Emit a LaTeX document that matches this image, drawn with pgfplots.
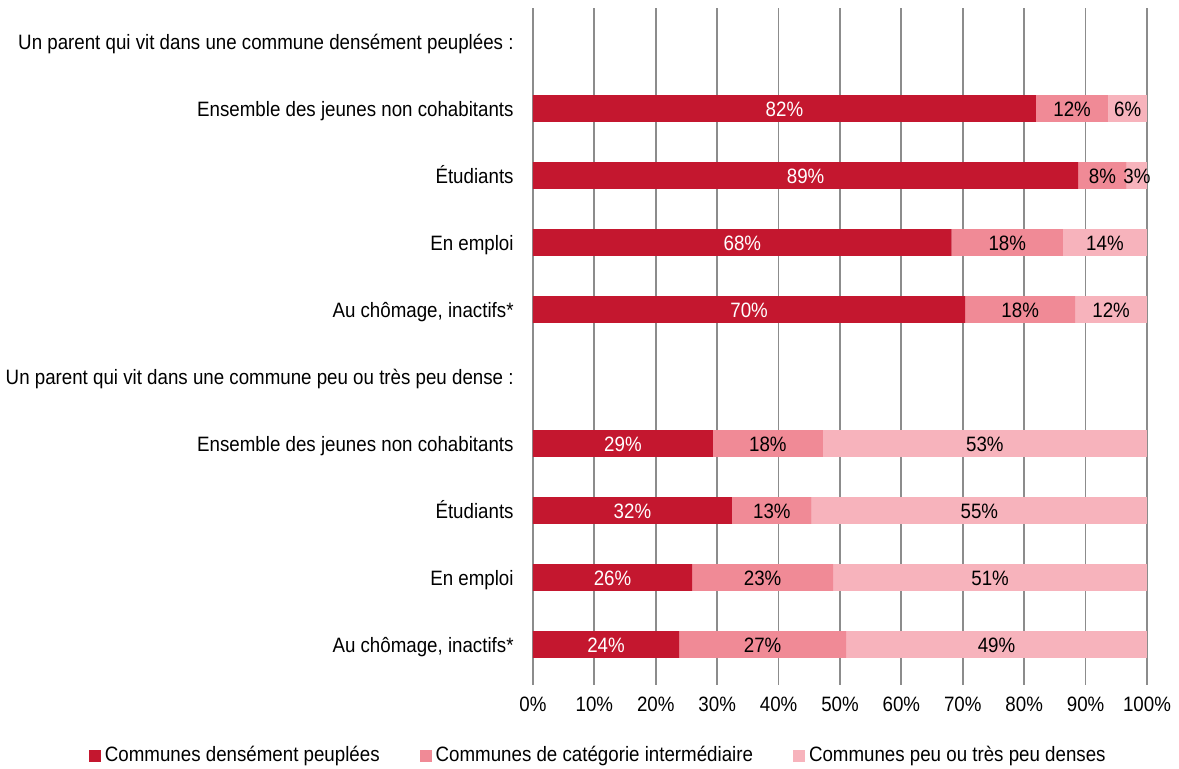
\documentclass[border=0pt]{standalone}
\usepackage{pgfplots}
\pgfplotsset{compat=1.18}
\usepackage{pgfplotstable}
\usepackage{fontspec}
\setmainfont{Liberation Sans}[FakeStretch=0.9]
\definecolor{c1}{HTML}{C4172F}
\definecolor{c2}{HTML}{F08A96}
\definecolor{c3}{HTML}{F7B3BC}
\definecolor{gridc}{HTML}{8C8C8C}

\pgfplotstableread{
y a b c la lb lc
1 81.9 11.8 6.3 82 12 6
2 88.8 7.9 3.3 89 8 3
3 68.2 18.1 13.7 68 18 14
4 70.4 17.9 11.7 70 18 12
6 29.3 17.9 52.8 29 18 53
7 32.4 13.0 54.6 32 13 55
8 25.9 23.0 51.1 26 23 51
9 23.8 27.2 49.0 24 27 49
}\data

\pgfplotsset{
  mysq/.style={legend image code/.code={\fill[##1] (0pt,-3pt) rectangle (6pt,3pt);}},
  lbl/.style={only marks, mark=none, point meta=explicit symbolic,
    nodes near coords={\pgfplotspointmeta\%},
    every node near coord/.style={anchor=base, yshift=-3.9pt, inner sep=0pt, font=\fontsize{10.4}{12}\selectfont, text=#1}},
}

\begin{document}
\begin{tikzpicture}
\begin{axis}[
  name=main,
  scale only axis, width=307pt, height=335pt,
  xbar stacked, bar width=13.3pt,
  xmin=0, xmax=100, ymin=-0.5, ymax=9.5, y dir=reverse,
  enlargelimits=false,
  axis lines*=left,
  x axis line style={draw=none},
  y axis line style={gridc, line width=0.9pt},
  tick align=outside,
  font=\fontsize{10.4}{12}\selectfont,
  /pgf/number format/assume math mode=true,
  xtick={0,10,...,100},
  xticklabel={\pgfmathprintnumber{\tick}\%},
  xtick style={gridc, line width=0.9pt},
  major tick length=3.5pt,
  minor tick length=3pt,
  xmajorgrids=true,
  major x grid style={gridc, line width=0.9pt},
  ytick={0,...,9},
  yticklabels={{Un parent qui vit dans une commune densément peuplées :},
    {Ensemble des jeunes non cohabitants},{Étudiants},{En emploi},{Au chômage, inactifs*},
    {Un parent qui vit dans une commune peu ou très peu dense :},
    {Ensemble des jeunes non cohabitants},{Étudiants},{En emploi},{Au chômage, inactifs*}},
  ytick style={draw=none},
  minor ytick={-0.5,0.5,...,9.5},
  minor y tick style={gridc, line width=0.9pt},
  yticklabel style={inner sep=0pt, anchor=base east, xshift=-6pt, yshift=-3.9pt},
  xticklabel style={inner sep=0pt, anchor=north, yshift=-6pt},
  legend style={at={(0.108,-0.116)}, anchor=center, legend columns=3, draw=none,
    font=\fontsize{10.4}{12}\selectfont,
    /tikz/every even column/.append style={column sep=18pt}},
  legend cell align=left,
]
\addplot[fill=c1, draw=none, mysq] table[x=a, y=y]{\data};
\addplot[fill=c2, draw=none, mysq] table[x=b, y=y]{\data};
\addplot[fill=c3, draw=none, mysq] table[x=c, y=y]{\data};
\legend{Communes densément peuplées, Communes de catégorie intermédiaire, Communes peu ou très peu denses}
\end{axis}
\begin{axis}[
  at={(main.south west)}, anchor=south west,
  scale only axis, width=307pt, height=335pt,
  xmin=0, xmax=100, ymin=-0.5, ymax=9.5, y dir=reverse,
  hide axis, clip=false,
]
\addplot[lbl=white] table[x expr=\thisrow{a}/2, y=y, meta=la]{\data};
\addplot[lbl=black] table[x expr=\thisrow{a}+\thisrow{b}/2, y=y, meta=lb]{\data};
\addplot[lbl=black] table[x expr=\thisrow{a}+\thisrow{b}+\thisrow{c}/2, y=y, meta=lc]{\data};
\end{axis}
\pgfresetboundingbox
\path ([shift={(-266.5pt,-45.5pt)}]main.south west) rectangle ([shift={(16pt,4pt)}]main.north east);
\end{tikzpicture}
\end{document}
